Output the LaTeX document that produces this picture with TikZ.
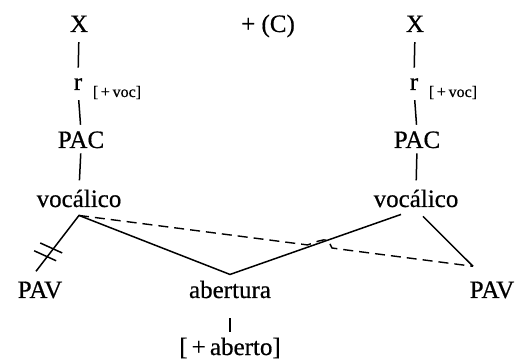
\documentclass[tikz,border=0pt]{standalone}
\usepackage{fontspec}
\setmainfont{Liberation Serif}[FakeBold=0.6]
\usetikzlibrary{calc}

\tikzset{
  lab/.style={anchor=base, inner sep=0pt, font=\fontsize{25}{30}\selectfont},
  feat/.style={anchor=base, inner sep=0pt, font=\fontsize{16}{19}\selectfont},
  assoc/.style={line width=1.5pt},
  delink/.style={line width=1.4pt, dash pattern=on 10pt off 6pt}
}

\begin{document}
\begin{tikzpicture}[x=1pt, y=-1pt]
			\useasboundingbox (0,0) rectangle (527,363);
			
			% Top tier of the two skeletal slots
			\node[lab] (XL) at (79,32) {X};
			\node[lab] (plusC) at (268,32) {+ (C)};
			\node[lab] (XR) at (415,32) {X};
			
			% Root nodes with their feature
			\node[lab] (rL) at (78,90) {r};
			\node[feat] (vocfL) at (117,97) {[\,+\,voc]};
			\node[lab] (rR) at (414,90) {r};
			\node[feat] (vocfR) at (453,97) {[\,+\,voc]};
			
			% Place nodes
			\node[lab] (PACL) at (81,148) {PAC};
			\node[lab] (PACR) at (417,148) {PAC};
			\node[lab] (vocL) at (79,207) {vocálico};
			\node[lab] (vocR) at (416,207) {vocálico};
			
			% Lower tier
			\node[lab] (PAVL) at (40,298) {PAV};
			\node[lab] (aber) at (230,298) {abertura};
			\node[lab] (PAVR) at (492,298) {PAV};
			\node[lab] (aberto) at (230,355) {[\,+\,aberto]};
			
			% Vertical association lines
			\draw[assoc, shorten <=10pt, shorten >=10.5pt] (XL.south) -- (rL.north);
			\draw[assoc, shorten <=10pt, shorten >=10.5pt] (XR.south) -- (rR.north);
			\draw[assoc, shorten <=10pt, shorten >=6.5pt] (rL.south) -- (PACL.north);
			\draw[assoc, shorten <=10pt, shorten >=6.5pt] (rR.south) -- (PACR.north);
			\draw[assoc, shorten <=5pt, shorten >=9pt] (PACL.south) -- (vocL.north);
			\draw[assoc, shorten <=5pt, shorten >=9pt] (PACR.south) -- (vocR.north);
			\draw[assoc, shorten <=20pt, shorten >=5pt] (aber.south) -- (aberto.north);
			
			% End points of the slanted lines
			\coordinate (vL) at ([yshift=-8pt]vocL.south);
			\coordinate (vRa) at ([xshift=-15pt, yshift=-7pt]vocR.south);
			\coordinate (vRb) at ([xshift=7pt, yshift=-9pt]vocR.south);
			\coordinate (aT) at ([yshift=6pt]aber.north);
			\coordinate (pL) at ([xshift=-4pt, yshift=10pt]PAVL.north);
			\coordinate (pR) at ([xshift=-19pt, yshift=15pt]PAVR.north);
			
			% Slanted association lines
			\draw[assoc, line join=miter] (pL) -- (vL) -- (aT) -- (vRa);
			\draw[assoc] (vRb) -- (pR);
			
			% Delinking marks on the left PAV line
			\coordinate (m1) at ($(vL)!0.6!(pL)$);
			\coordinate (m2) at ($(vL)!0.74!(pL)$);
			\draw[assoc] (m1) +(-13,-6) -- +(9,4);
			\draw[assoc] (m2) +(-13,-6) -- +(9,4);
			
			% Dashed spreading line, hopping over the solid one
			\coordinate (h1) at ($(vL)!0.58!(pR)$);
			\coordinate (h2) at (328,240);
			\coordinate (h3) at ($(vL)!0.68!(pR)$);
			\draw[delink] (vL) -- (h1) .. controls (316,242) and (322,239) .. (h2) -- (332,248) -- (h3) -- (pR);
		\end{tikzpicture}
\end{document}
